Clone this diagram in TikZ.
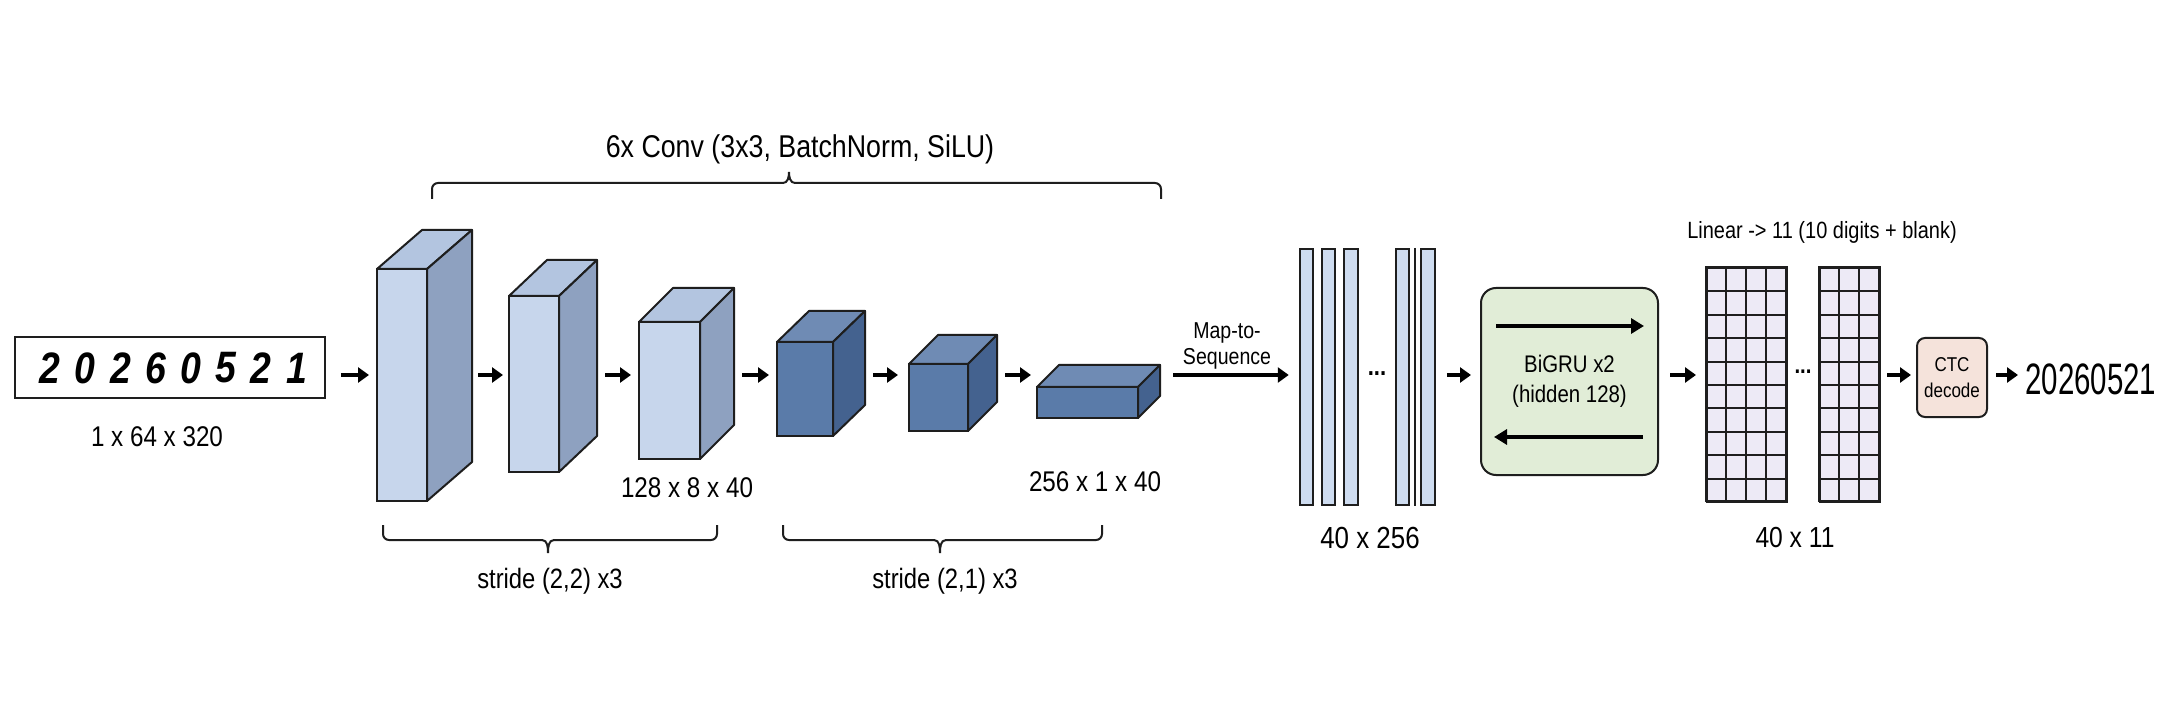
\documentclass[tikz,border=0pt]{standalone}
\usepackage{fontspec}
\setmainfont[FakeStretch=0.85]{Liberation Sans}
\newfontfamily\outfont[FakeStretch=0.67]{Liberation Sans}
\usetikzlibrary{arrows.meta}

\definecolor{edgegray}{HTML}{1E1E1E}
\definecolor{lightfront}{HTML}{C7D6EC}
\definecolor{lightside}{HTML}{8EA1C0}
\definecolor{lighttop}{HTML}{B3C5E0}
\definecolor{darkfront}{HTML}{5A7BA9}
\definecolor{darkside}{HTML}{44628F}
\definecolor{darktop}{HTML}{6F8BB4}
\definecolor{seqfill}{HTML}{CEDCF0}
\definecolor{grufill}{HTML}{E1EDD7}
\definecolor{cellfill}{HTML}{EDEAF6}
\definecolor{ctcfill}{HTML}{F5E3DB}

\newcommand{\fs}[2]{\fontsize{#1}{#2}\selectfont}

% conv block: name, x, y, width, height, dx, dy, shade
\newcommand{\convcube}[8]{%
  \node[cubeface, fill=#8front, minimum width=#4, minimum height=#5] (#1) at (#2,#3) {};
  \filldraw[cubeedge, fill=#8top] (#1.north west) -- ++(#6,#7) -- ++(#4,0) -- (#1.north east) -- cycle;
  \filldraw[cubeedge, fill=#8side] (#1.north east) -- ++(#6,#7) -- ++(0,-#5) -- (#1.south east) -- cycle;
  \coordinate (#1r) at ([xshift=#6]#1.east);
}

\tikzset{
  cubeface/.style={draw=edgegray, line width=2pt, inner sep=0pt, outer sep=0pt},
  cubeedge/.style={draw=edgegray, line width=2pt, line join=round},
  flow/.style={line width=3.6pt, -{Triangle[length=11pt,width=15pt]}, shorten <=8pt, shorten >=8pt},
  dirarrow/.style={line width=3.6pt, -{Triangle[length=13pt,width=15pt]}},
  seqbar/.style={draw=edgegray, line width=2pt, fill=seqfill, inner sep=0pt, minimum width=13.5, minimum height=256},
  gridcol/.style={draw=edgegray, line width=2pt, fill=cellfill, inner sep=0pt, minimum height=234},
  bracket/.style={draw=edgegray, line width=2pt},
  lbl/.style={font=\fs{28.5}{32}, inner sep=1pt},
  digit/.style={font=\fs{44}{44}\bfseries\itshape, inner sep=0pt}
}

\begin{document}
\begin{tikzpicture}[x=1pt,y=1pt]
  \useasboundingbox[fill=white] (0,0) rectangle (2172,724);
  \coordinate (axis) at (0,349);

  % input image
  \node[draw=edgegray, line width=1.8pt, minimum width=310, minimum height=61, inner sep=0pt] (img) at (170,356.5) {};
  \foreach \d [count=\i] in {2,0,2,6,0,5,2,1}
    \node[digit] (d\i) at ({14.8+35.2*\i},356) {\d};
  \node[lbl] (inlbl) at (157,287) {1 x 64 x 320};

  % conv stack
  \convcube{c1}{402}{339}{50}{232}{45}{39}{light}
  \convcube{c2}{534}{340}{50}{176}{38}{36}{light}
  \convcube{c3}{669.5}{333.5}{61}{137}{34}{34}{light}
  \convcube{c4}{805}{335}{56}{94}{32}{31}{dark}
  \convcube{c5}{938.5}{326.5}{59}{67}{29}{29}{dark}
  \convcube{c6}{1087.5}{321.5}{101}{31}{22}{22}{dark}
  \node[lbl] (lbl3) at (687,236) {128 x 8 x 40};
  \node[lbl] (lbl6) at (1095,242) {256 x 1 x 40};

  \draw[flow, shorten <=15pt] (img.east |- axis) -- (c1.west |- axis);
  \draw[flow, shorten <=6pt, shorten >=6pt] (c1r |- axis) -- (c2.west |- axis);
  \draw[flow] (c2r |- axis) -- (c3.west |- axis);
  \draw[flow] (c3r |- axis) -- (c4.west |- axis);
  \draw[flow, shorten >=11pt] (c4r |- axis) -- (c5.west |- axis);
  \draw[flow, shorten >=6pt] (c5r |- axis) -- (c6.west |- axis);

  % braces
  \draw[bracket] (432,525) -- (432,535) to[out=90,in=180] (438,541) -- (783,541) to[out=0,in=-90] (789,552)
    to[out=-90,in=180] (795,541) -- (1155,541) to[out=0,in=90] (1161,535) -- (1161,525);
  \node[font=\fs{31.5}{36}] (convlbl) at (800,575) {6x Conv (3x3, BatchNorm, SiLU)};
  \draw[bracket] (383,199) -- (383,190) to[out=-90,in=180] (389,184) -- (542,184) to[out=0,in=90] (548,171)
    to[out=90,in=180] (554,184) -- (711,184) to[out=0,in=-90] (717,190) -- (717,199);
  \draw[bracket] (783,199) -- (783,190) to[out=-90,in=180] (789,184) -- (934,184) to[out=0,in=90] (940,171)
    to[out=90,in=180] (946,184) -- (1096,184) to[out=0,in=-90] (1102,190) -- (1102,199);
  \node[font=\fs{28}{32}] (s22lbl) at (550,143) {stride (2,2) x3};
  \node[font=\fs{28}{32}] (s21lbl) at (945,143) {stride (2,1) x3};

  % sequence
  \foreach \x [count=\i] in {1306.5,1328.5,1351,1402.5,1428}
    \node[seqbar] (s\i) at (\x,347) {};
  \draw[edgegray, line width=2pt] ([xshift=-5]s5.north west) -- ([xshift=-5]s5.south west);
  \node[font=\fs{26}{26}\bfseries] (sdots) at (1377,350) {...};
  \node[lbl, font=\fs{30.5}{34}] (seqlbl) at (1370,186) {40 x 256};
  \draw[flow, shorten <=13pt, shorten >=10pt] (c6r |- axis) -- (s1.west |- axis);
  \node[font=\fs{23}{26}, align=center] (maplbl) at (1227,378) {Map-to-\\Sequence};

  % BiGRU
  \node[draw=edgegray, line width=2pt, fill=grufill, rounded corners=15, minimum width=177, minimum height=187,
        align=center, font=\fs{24}{30}] (gru) at (1569.5,342.5) {BiGRU x2\\(hidden 128)};
  \draw[dirarrow] ([shift={(16,-39)}]gru.north west) -- ([shift={(-15,-39)}]gru.north east);
  \draw[dirarrow] ([shift={(-16,39)}]gru.south east) -- ([shift={(14,39)}]gru.south west);
  \draw[flow, shorten <=11pt, shorten >=9pt] (s5.east |- axis) -- (gru.west |- axis);

  % linear output
  \node[gridcol, minimum width=80] (g1) at (1747,340) {};
  \node[gridcol, minimum width=60] (g2) at (1850,340) {};
  \foreach \g in {g1,g2}
    \draw[edgegray, line width=2pt, shift={(\g.south west)}] (0,0) grid[xstep=20, ystep=23.4] (\g.north east);
  \node[font=\fs{24}{24}\bfseries] (gdots) at (1803,352) {...};
  \node[font=\fs{23.5}{26}] (linlbl) at (1822,492) {Linear -> 11 (10 digits + blank)};
  \node[lbl, font=\fs{29}{32}] (gridlbl) at (1795,186) {40 x 11};
  \draw[flow, shorten <=11pt, shorten >=10pt] (gru.east |- axis) -- (g1.west |- axis);

  % decode
  \node[draw=edgegray, line width=2pt, fill=ctcfill, rounded corners=8, minimum width=70, minimum height=79,
        align=center, font=\fs{20}{26}] (ctc) at (1952,346.5) {CTC\\decode};
  \node[font=\outfont\fs{44}{44}, anchor=west, inner sep=2pt] (out) at (2023,345) {20260521};
  \draw[flow, shorten <=6pt, shorten >=5pt] (g2.east |- axis) -- (ctc.west |- axis);
  \draw[flow, shorten <=8pt, shorten >=5pt] (ctc.east |- axis) -- (out.west |- axis);
\end{tikzpicture}
\end{document}
